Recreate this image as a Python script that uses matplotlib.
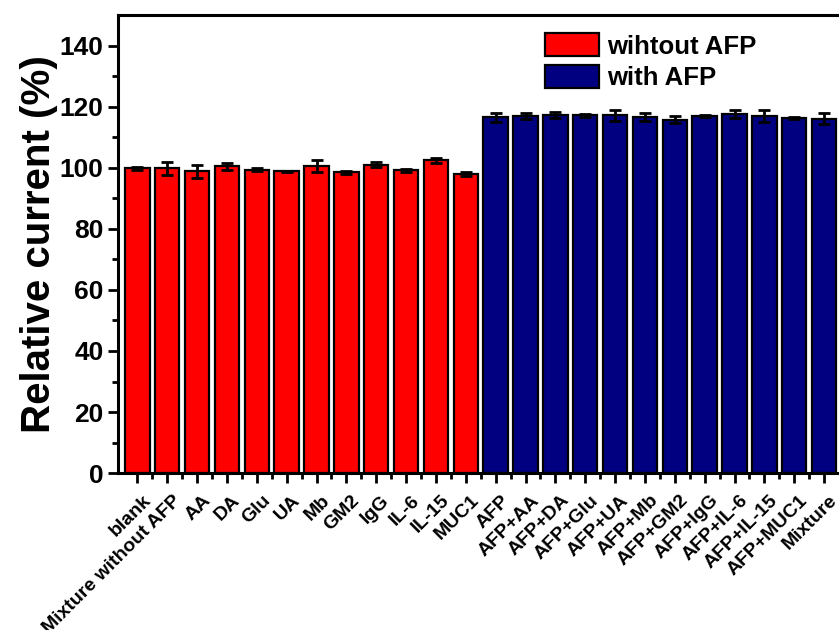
import matplotlib.pyplot as plt
import numpy as np
from matplotlib.patches import Patch

plt.rcParams['font.family'] = 'Liberation Sans'
plt.rcParams['font.weight'] = 'bold'

labels = ["blank", "Mixture without AFP", "AA", "DA", "Glu", "UA", "Mb", "GM2",
          "IgG", "IL-6", "IL-15", "MUC1",
          "AFP", "AFP+AA", "AFP+DA", "AFP+Glu", "AFP+UA", "AFP+Mb", "AFP+GM2",
          "AFP+IgG", "AFP+IL-6", "AFP+IL-15", "AFP+MUC1", "Mixture"]
without_afp = [99.8, 99.8, 98.8, 100.5, 99.3, 98.8, 100.7, 98.5, 101.0, 99.2, 102.4, 98.0]
without_err = [0.6, 2.0, 2.2, 1.2, 0.5, 0.3, 2.0, 0.5, 0.9, 0.5, 0.9, 0.6]
with_afp = [116.5, 117.0, 117.3, 117.2, 117.2, 116.7, 115.8, 117.0, 117.5, 117.0, 116.2, 116.0]
with_err = [1.5, 1.0, 1.0, 0.5, 1.8, 1.4, 1.0, 0.3, 1.3, 1.9, 0.3, 1.8]

fig = plt.figure(figsize=(8.39, 6.3), dpi=100)
ax = fig.add_axes([0.1406, 0.249, 0.863, 0.727])

x1 = np.arange(len(without_afp))
x2 = np.arange(len(with_afp)) + len(without_afp)
ebar = dict(ecolor='black', elinewidth=2, capsize=4, capthick=2)
ax.bar(x1, without_afp, 0.82, yerr=without_err, color='#ff0000',
       edgecolor='black', linewidth=1.6, error_kw=ebar, zorder=2)
ax.bar(x2, with_afp, 0.82, yerr=with_err, color='#000080',
       edgecolor='black', linewidth=1.6, error_kw=ebar, zorder=2)

ax.set_xlim(-0.65, 23.6)
ax.set_ylim(0, 150)
ax.set_yticks(range(0, 141, 20))
ax.set_yticks(range(10, 150, 20), minor=True)
ax.set_xticks(np.arange(len(labels)))
ax.set_xticks(np.arange(len(labels) - 1) + 0.5, minor=True)
ax.set_xticklabels([])
# rotated category labels, shifted a bit right of each tick like the original
for i, lab in enumerate(labels):
    ax.annotate(lab, xy=(i, 0), xycoords=('data', 'axes fraction'),
                xytext=(3.5, -13.5), textcoords='offset points',
                rotation=45, ha='right', va='top', rotation_mode='anchor',
                fontsize=14, fontweight='bold', annotation_clip=False)

ax.tick_params(axis='y', which='major', labelsize=19, width=2, length=7, direction='out')
ax.tick_params(axis='y', which='minor', width=2, length=4, direction='out')
ax.tick_params(axis='x', which='major', width=2, length=7, direction='out')
ax.tick_params(axis='x', which='minor', width=2, length=4, direction='out')
for s in ax.spines.values():
    s.set_linewidth(2.2)

ax.set_ylabel("Relative current (%)", fontsize=29, fontweight='bold')
ax.yaxis.set_label_coords(-0.083, 0.5)

handles = [Patch(facecolor='#ff0000', edgecolor='black', linewidth=1.6),
           Patch(facecolor='#000080', edgecolor='black', linewidth=1.6)]
ax.legend(handles, ["wihtout AFP", "with AFP"], loc='upper left',
          bbox_to_anchor=(0.65, 0.947), bbox_transform=fig.transFigure,
          frameon=False, handlelength=2.1, handleheight=1.0,
          handletextpad=0.3, labelspacing=0.25, borderpad=0, borderaxespad=0,
          prop={'weight': 'bold', 'size': 18.5})

fig.savefig('out.png', dpi=100)
